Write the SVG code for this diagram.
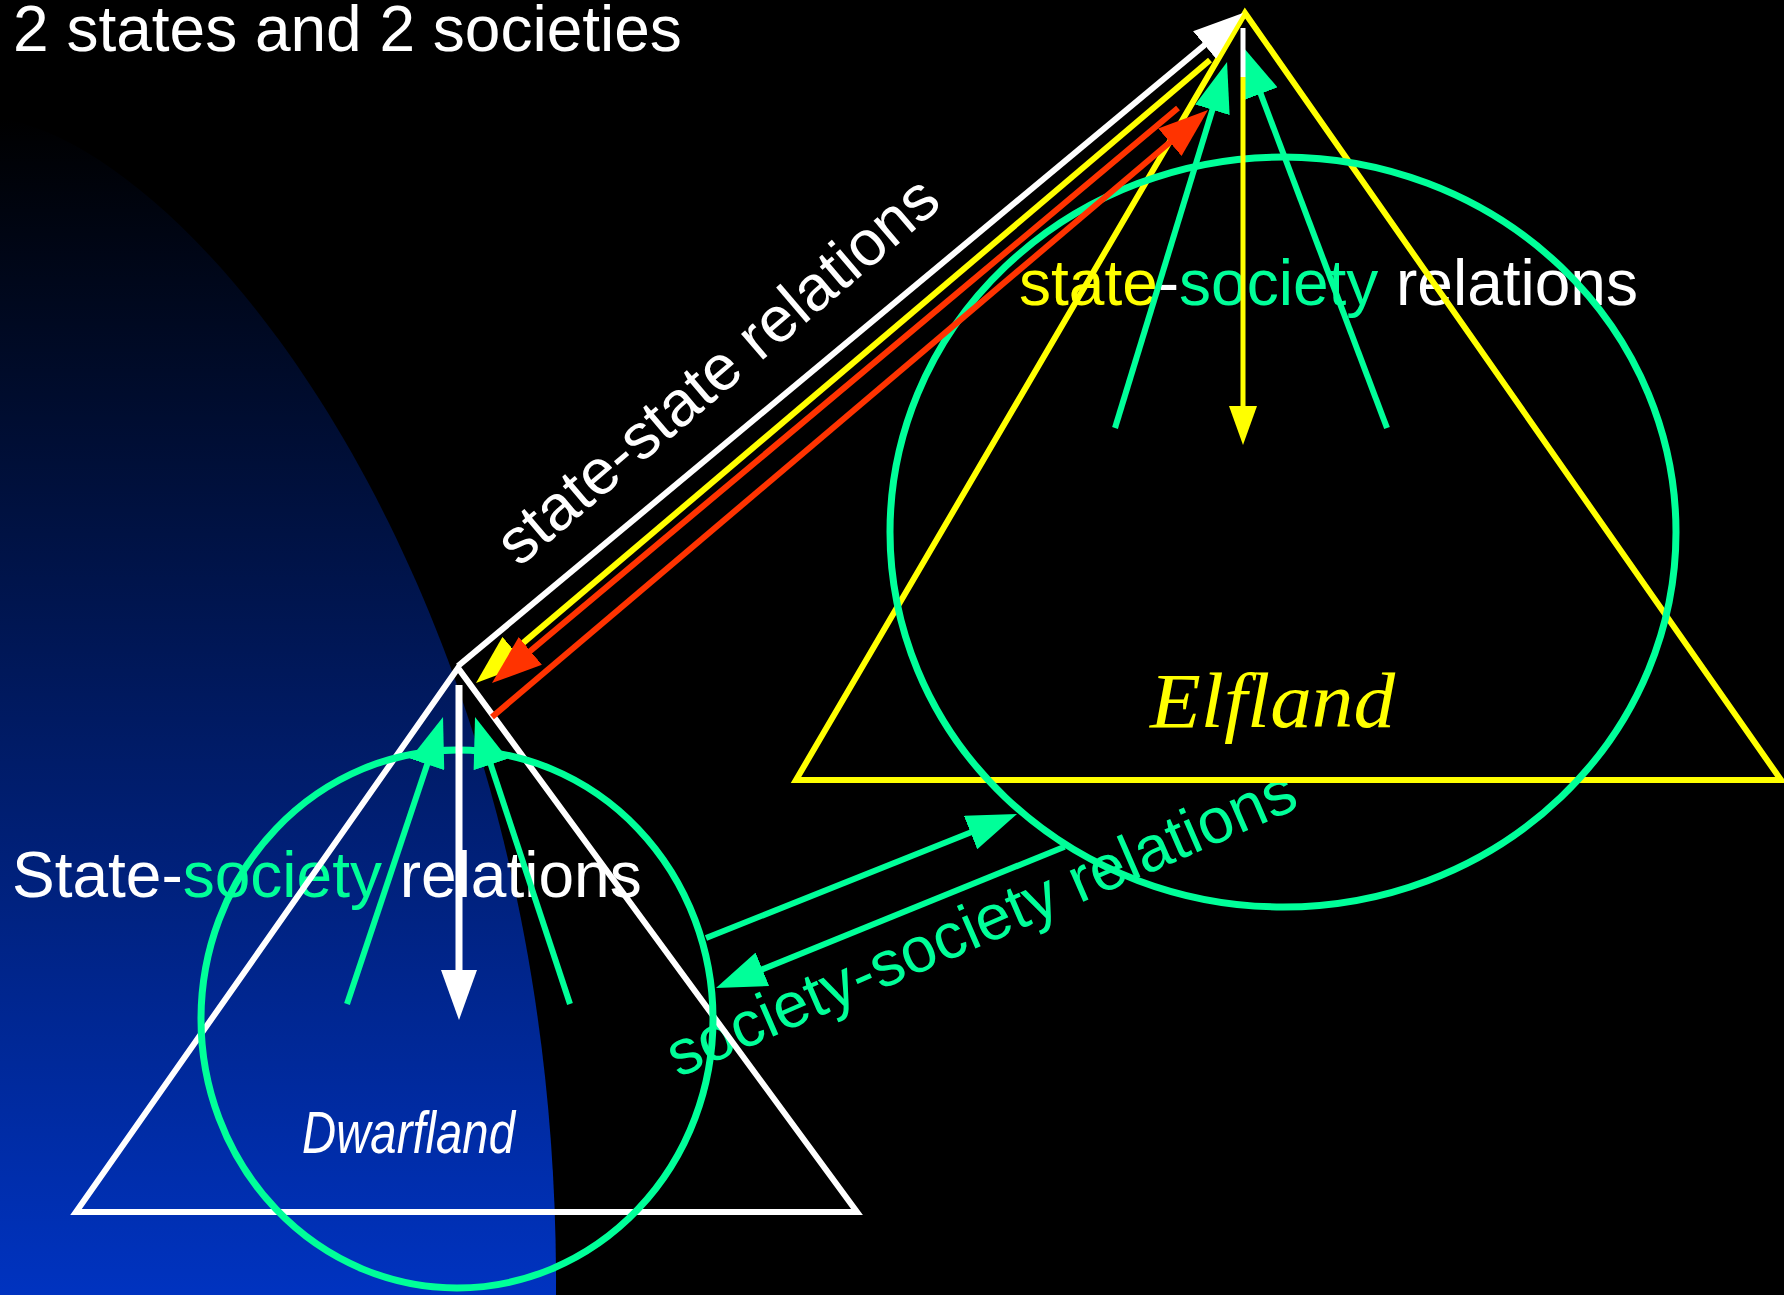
<svg xmlns="http://www.w3.org/2000/svg" width="1784" height="1295" viewBox="0 0 1784 1295">
<defs>
<style>
.lbl{font-family:"Liberation Sans",Arial,sans-serif;font-size:64px;fill:#FFFFFF}
.w{fill:#FFFFFF}.y{fill:#FFFF00}.g{fill:#00FF99}
.ln{fill:none;stroke-width:6}
.ci{fill:none;stroke-width:7}
.sw{stroke:#FFFFFF}.sy{stroke:#FFFF00}.sr{stroke:#FF3300}.sg{stroke:#00FF99}
</style>
<linearGradient id="bg" gradientUnits="userSpaceOnUse" x1="0" y1="118" x2="0" y2="1295">
<stop offset="0" stop-color="#000000"/>
<stop offset="1" stop-color="#0033C0"/>
</linearGradient>
<marker id="aw" viewBox="0 0 50 36" refX="2" refY="18" markerWidth="50" markerHeight="36" markerUnits="userSpaceOnUse" orient="auto"><path d="M0,0 L50,18 L0,36 z" fill="#FFFFFF"/></marker>
<marker id="ay" viewBox="0 0 50 36" refX="2" refY="18" markerWidth="50" markerHeight="36" markerUnits="userSpaceOnUse" orient="auto"><path d="M0,0 L50,18 L0,36 z" fill="#FFFF00"/></marker>
<marker id="ar" viewBox="0 0 50 36" refX="2" refY="18" markerWidth="50" markerHeight="36" markerUnits="userSpaceOnUse" orient="auto"><path d="M0,0 L50,18 L0,36 z" fill="#FF3300"/></marker>
<marker id="ag" viewBox="0 0 50 36" refX="2" refY="18" markerWidth="50" markerHeight="36" markerUnits="userSpaceOnUse" orient="auto"><path d="M0,0 L50,18 L0,36 z" fill="#00FF99"/></marker>
<marker id="ays" viewBox="0 0 39 28" refX="2" refY="14" markerWidth="39" markerHeight="28" markerUnits="userSpaceOnUse" orient="auto"><path d="M0,0 L39,14 L0,28 z" fill="#FFFF00"/></marker>
</defs>
<rect x="0" y="0" width="1784" height="1295" fill="#000000"/>
<path d="M0,118 C200,150 560,600 556,1295 L0,1295 Z" fill="url(#bg)"/>

<g id="labels">
<text class="lbl" x="13" y="51">2 states and 2 societies</text>
<text class="lbl" transform="translate(519,568) rotate(-40.5)">state-state relations</text>
<text class="lbl" x="1019" y="305"><tspan class="y">state</tspan><tspan class="w">-</tspan><tspan class="g">society</tspan><tspan class="w"> relations</tspan></text>
<text class="lbl" x="12" y="897"><tspan class="w">State-</tspan><tspan class="g">society</tspan><tspan class="w"> relations</tspan></text>
<text class="lbl g" transform="translate(678,1078) rotate(-23.5)">society-society relations</text>
</g>

<g id="dwarfland">
<polygon class="ln sw" points="458,668 76,1212 857,1212"/>
<ellipse class="ci sg" cx="457" cy="1019" rx="256" ry="269"/>
<text x="302" y="1153" fill="#FFFFFF" font-family="'Liberation Sans',Arial,sans-serif" font-style="italic" font-size="60" textLength="213" lengthAdjust="spacingAndGlyphs">Dwarfland</text>
</g>

<g id="elfland">
<polygon class="ln sy" points="1245,13 796,780 1781,780"/>
<ellipse class="ci sg" cx="1283" cy="532" rx="393" ry="375"/>
<text x="1150" y="727" fill="#FFFF00" font-family="'Liberation Serif','Times New Roman',serif" font-style="italic" font-size="78" textLength="245" lengthAdjust="spacingAndGlyphs">Elfland</text>
</g>

<g id="connectors">
<line class="ln sw" x1="458" y1="666" x2="1206.1" y2="43.7" marker-end="url(#aw)"/>
<line class="ln sy" x1="1210" y1="60" x2="512.6" y2="651.9" marker-end="url(#ay)"/>
<line class="ln sr" x1="1178" y1="108" x2="528.8" y2="652.2" marker-end="url(#ar)"/>
<line class="ln sr" x1="492" y1="717" x2="1171.4" y2="141" marker-end="url(#ar)"/>
<line class="ln sg" x1="347" y1="1004" x2="427.8" y2="762.5" marker-end="url(#ag)"/>
<line class="ln sg" x1="570" y1="1004" x2="490.1" y2="762.6" marker-end="url(#ag)"/>
<line class="sw" stroke-width="7" x1="459" y1="685" x2="459" y2="972" marker-end="url(#aw)"/>
<line class="ln sg" x1="1115" y1="428" x2="1213" y2="107.9" marker-end="url(#ag)"/>
<line class="ln sg" x1="1387" y1="428" x2="1260" y2="91.9" marker-end="url(#ag)"/>
<line class="sw" stroke-width="5" x1="1243" y1="28" x2="1243" y2="77"/>
<line class="sy" stroke-width="5" x1="1243" y1="77" x2="1243" y2="408" marker-end="url(#ays)"/>
<line class="ln sg" x1="706" y1="938" x2="972.4" y2="831.8" marker-end="url(#ag)"/>
<line class="ln sg" x1="1064.6" y1="846.7" x2="760.5" y2="970" marker-end="url(#ag)"/>
</g>
</svg>
